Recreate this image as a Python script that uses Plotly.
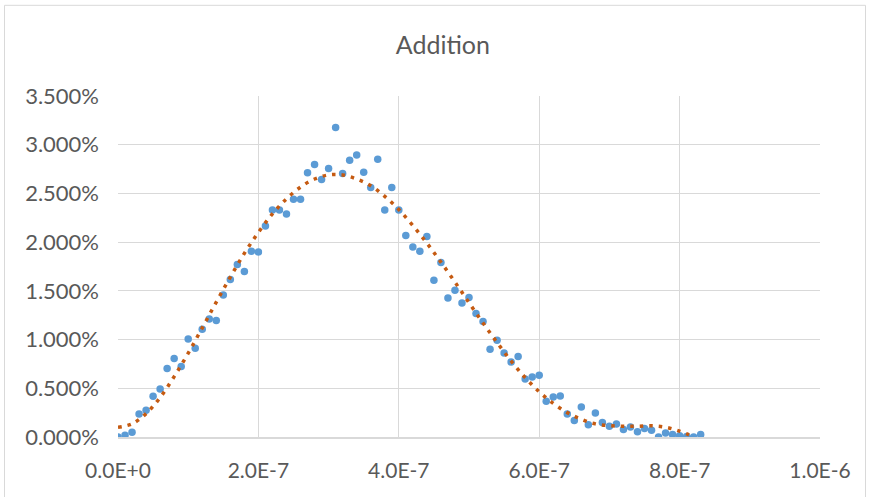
import plotly.graph_objects as go

# Observed data (x in seconds-ish units, y as fraction)
x_values = [
    0.00e-6, 0.01e-6, 0.02e-6, 0.03e-6, 0.04e-6, 0.05e-6, 0.06e-6, 0.07e-6, 0.08e-6, 0.09e-6,
    0.10e-6, 0.11e-6, 0.12e-6, 0.13e-6, 0.14e-6, 0.15e-6, 0.16e-6, 0.17e-6, 0.18e-6, 0.19e-6,
    0.20e-6, 0.21e-6, 0.22e-6, 0.23e-6, 0.24e-6, 0.25e-6, 0.26e-6, 0.27e-6, 0.28e-6, 0.29e-6,
    0.30e-6, 0.31e-6, 0.32e-6, 0.33e-6, 0.34e-6, 0.35e-6, 0.36e-6, 0.37e-6, 0.38e-6, 0.39e-6,
    0.40e-6, 0.41e-6, 0.42e-6, 0.43e-6, 0.44e-6, 0.45e-6, 0.46e-6, 0.47e-6, 0.48e-6, 0.49e-6,
    0.50e-6, 0.51e-6, 0.52e-6, 0.53e-6, 0.54e-6, 0.55e-6, 0.56e-6, 0.57e-6, 0.58e-6, 0.59e-6,
    0.60e-6, 0.61e-6, 0.62e-6, 0.63e-6, 0.64e-6, 0.65e-6, 0.66e-6, 0.67e-6, 0.68e-6, 0.69e-6,
    0.70e-6, 0.71e-6, 0.72e-6, 0.73e-6, 0.74e-6, 0.75e-6, 0.76e-6, 0.77e-6, 0.78e-6, 0.79e-6,
    0.80e-6, 0.81e-6, 0.82e-6, 0.83e-6,
]
y_values = [
    0.00000, 0.00017, 0.00048, 0.00236, 0.00274, 0.00418, 0.00493, 0.00702, 0.00805, 0.00723,
    0.01006, 0.00911, 0.01106, 0.01211, 0.01195, 0.01458, 0.01616, 0.01770, 0.01698, 0.01907,
    0.01899, 0.02166, 0.02331, 0.02331, 0.02290, 0.02440, 0.02440, 0.02711, 0.02797, 0.02643,
    0.02756, 0.03177, 0.02704, 0.02841, 0.02895, 0.02718, 0.02561, 0.02851, 0.02331, 0.02561,
    0.02331, 0.02068, 0.01951, 0.01907, 0.02058, 0.01609, 0.01790, 0.01427, 0.01506, 0.01376,
    0.01431, 0.01267, 0.01185, 0.00900, 0.00993, 0.00862, 0.00770, 0.00825, 0.00595, 0.00616,
    0.00633, 0.00367, 0.00411, 0.00421, 0.00236, 0.00170, 0.00308, 0.00127, 0.00246, 0.00148,
    0.00110, 0.00133, 0.00076, 0.00103, 0.00055, 0.00086, 0.00069, 0.00000, 0.00041, 0.00025,
    0.00014, 0.00004, 0.00000, 0.00025,
]

# Trendline
trend_x = [
    0.00e-6, 0.02e-6, 0.04e-6, 0.06e-6, 0.08e-6, 0.10e-6, 0.12e-6, 0.14e-6, 0.16e-6, 0.18e-6,
    0.20e-6, 0.22e-6, 0.24e-6, 0.26e-6, 0.28e-6, 0.30e-6, 0.32e-6, 0.34e-6, 0.36e-6, 0.38e-6,
    0.40e-6, 0.42e-6, 0.44e-6, 0.46e-6, 0.48e-6, 0.50e-6, 0.52e-6, 0.54e-6, 0.56e-6, 0.58e-6,
    0.60e-6, 0.62e-6, 0.64e-6, 0.66e-6, 0.68e-6, 0.70e-6, 0.72e-6, 0.74e-6, 0.76e-6, 0.78e-6,
    0.80e-6, 0.82e-6,
]
trend_y = [
    0.00100, 0.00135, 0.00240, 0.00405, 0.00620, 0.00860, 0.01120, 0.01385, 0.01640, 0.01885,
    0.02100, 0.02290, 0.02445, 0.02565, 0.02648, 0.02690, 0.02690, 0.02648, 0.02580, 0.02470,
    0.02335, 0.02170, 0.01990, 0.01795, 0.01590, 0.01378, 0.01170, 0.00970, 0.00780, 0.00610,
    0.00465, 0.00345, 0.00250, 0.00182, 0.00135, 0.00116, 0.00110, 0.00110, 0.00115, 0.00100,
    0.00060, 0.00000,
]

x_tickvals = [0, 2e-7, 4e-7, 6e-7, 8e-7, 1e-6]
x_ticktext = ["0.0E+0", "2.0E-7", "4.0E-7", "6.0E-7", "8.0E-7", "1.0E-6"]

FONT = "Lato"
TEXT = "#595959"
GRID = "#d9d9d9"

fig = go.Figure()
fig.add_trace(go.Scatter(
    x=x_values, y=y_values, mode="markers",
    marker=dict(color="#5B9BD5", size=7.5, line=dict(width=0)),
    showlegend=False,
))
fig.add_trace(go.Scatter(
    x=trend_x, y=trend_y, mode="lines", line_shape="spline",
    line=dict(color="#C55A11", width=3.5, dash="3.5px,6px"),
    showlegend=False,
))

fig.update_layout(
    width=870, height=497,
    margin=dict(l=118, r=50, t=96, b=60),
    paper_bgcolor="white", plot_bgcolor="white",
    font=dict(family=FONT, color=TEXT, size=21),
    title=dict(text="Addition", x=0.509, xref="container", xanchor="center",
               y=0.909, yref="container", yanchor="middle",
               font=dict(family=FONT, size=25, color=TEXT)),
    xaxis=dict(range=[0, 1e-6], tickvals=x_tickvals, ticktext=x_ticktext,
               showgrid=True, gridcolor=GRID, gridwidth=1.3,
               showline=True, linecolor=GRID, linewidth=1.5,
               zeroline=False, ticks="", ticklabelstandoff=14,
               tickfont=dict(family=FONT, size=21, color=TEXT)),
    yaxis=dict(range=[0, 0.035], dtick=0.005, tick0=0, tickformat=".3%",
               showgrid=True, gridcolor=GRID, gridwidth=1.3,
               zeroline=False, showline=False, ticks="", ticklabelstandoff=18,
               tickfont=dict(family=FONT, size=22, color=TEXT)),
    shapes=[dict(type="rect", xref="paper", yref="paper",
                 x0=(4.5 - 118) / 702, x1=(865.5 - 118) / 702,
                 y0=-0.2, y1=(436.7 - 5) / 341,
                 line=dict(color="#d9d9d9", width=1), fillcolor="rgba(0,0,0,0)",
                 layer="below")],
)

fig.write_html("out.html")
